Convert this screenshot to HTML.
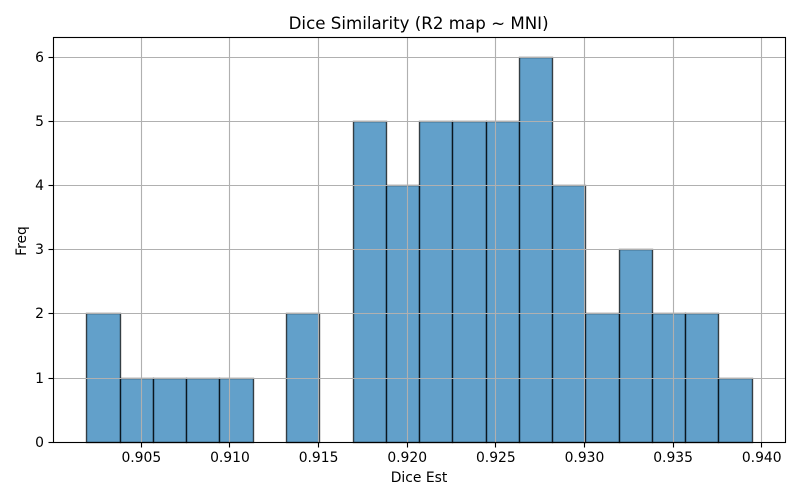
<!DOCTYPE html>
<html lang="en">
<head>
<meta charset="utf-8">
<title>Dice Similarity (R2 map ~ MNI)</title>
<style>
html,body{margin:0;padding:0;background:#fff;}
svg{display:block;}
text{font-family:"DejaVu Sans",sans-serif;fill:#000;}
</style>
</head>
<body>
<svg id="chart" xmlns="http://www.w3.org/2000/svg" width="800" height="500" viewBox="0 0 800 500"></svg>
<script>
const binMin = 0.901928;
const binMax = 0.939466;
const counts = [2, 1, 1, 1, 1, 0, 2, 0, 5, 4, 5, 5, 5, 6, 4, 2, 3, 2, 2, 1];
const xTicks = [0.905, 0.910, 0.915, 0.920, 0.925, 0.930, 0.935, 0.940];
const xTickLabels = ['0.905', '0.910', '0.915', '0.920', '0.925', '0.930', '0.935', '0.940'];
const yTicks = [0, 1, 2, 3, 4, 5, 6];
const yTickLabels = ['0', '1', '2', '3', '4', '5', '6'];

const svg = document.getElementById('chart');
const NS = 'http://www.w3.org/2000/svg';
const frameBox = { left: 53.5, right: 785.5, top: 37.5, bottom: 442.5 };
const xDomain = [0.90002, 0.94132];
const xRange = [53.03, 785.11];
const yDomain = [0, 6.3];
const yRange = [442.15, 38.32];

function xScale(v) {
  return xRange[0] + (v - xDomain[0]) / (xDomain[1] - xDomain[0]) * (xRange[1] - xRange[0]);
}
function yScale(v) {
  return yRange[0] + (v - yDomain[0]) / (yDomain[1] - yDomain[0]) * (yRange[1] - yRange[0]);
}
function snap(p) {
  return Math.floor(p) + 0.5;
}
function make(tag, attrs, parent) {
  const el = document.createElementNS(NS, tag);
  for (const k in attrs) el.setAttribute(k, attrs[k]);
  parent.appendChild(el);
  return el;
}

const background = make('rect', { x: 53, y: 37, width: 732, height: 405, fill: '#fff' }, svg);



// Bars
const binWidth = (binMax - binMin) / counts.length;
counts.forEach(function (count, i) {
  if (count === 0) return;
  const x0 = snap(xScale(binMin + i * binWidth));
  const x1 = snap(xScale(binMin + (i + 1) * binWidth));
  const y1 = snap(yScale(count));
  const y0 = snap(yScale(0));
  const bar = make('rect', {
    x: x0, y: y1, width: x1 - x0, height: y0 - y1,
    fill: '#1f77b4', 'fill-opacity': 0.7,
    stroke: '#000', 'stroke-opacity': 0.7, 'stroke-width': 1.39
  }, svg);
  
  
});

// Grid lines and ticks
xTicks.forEach(function (t, i) {
  const x = snap(xScale(t));
  const grid = make('line', { x1: x, x2: x, y1: frameBox.top, y2: frameBox.bottom, stroke: '#b0b0b0', 'stroke-width': 1.11 }, svg);
  
  
  const tick = make('line', { x1: x, x2: x, y1: frameBox.bottom, y2: frameBox.bottom + 5, stroke: '#000', 'stroke-width': 1.11 }, svg);
  
  
  const label = make('text', { x: xScale(t), y: 462, 'font-size': 13.89, 'text-anchor': 'middle' }, svg);
  
  
  label.textContent = xTickLabels[i];
});
yTicks.forEach(function (t, i) {
  const y = snap(yScale(t));
  const grid = make('line', { x1: frameBox.left, x2: frameBox.right, y1: y, y2: y, stroke: '#b0b0b0', 'stroke-width': 1.11 }, svg);
  
  
  const tick = make('line', { x1: frameBox.left - 5, x2: frameBox.left, y1: y, y2: y, stroke: '#000', 'stroke-width': 1.11 }, svg);
  
  
  const label = make('text', { x: 44, y: y + 4.7, 'font-size': 13.89, 'text-anchor': 'end' }, svg);
  
  
  label.textContent = yTickLabels[i];
});

// Axes frame
const frame = make('rect', {
  x: frameBox.left, y: frameBox.top, width: frameBox.right - frameBox.left, height: frameBox.bottom - frameBox.top,
  fill: 'none', stroke: '#000', 'stroke-width': 1.11
}, svg);



// Titles
const title = make('text', { x: 418.6, y: 29, 'font-size': 16.67, 'text-anchor': 'middle' }, svg);


title.textContent = 'Dice Similarity (R2 map ~ MNI)';

const xTitle = make('text', { x: 419, y: 482, 'font-size': 13.89, 'text-anchor': 'middle' }, svg);


xTitle.textContent = 'Dice Est';

const yTitle = make('text', { x: 0, y: 0, 'font-size': 13.89, 'text-anchor': 'middle', transform: 'translate(26 241) rotate(-90)' }, svg);


yTitle.textContent = 'Freq';
</script>
</body>
</html>
